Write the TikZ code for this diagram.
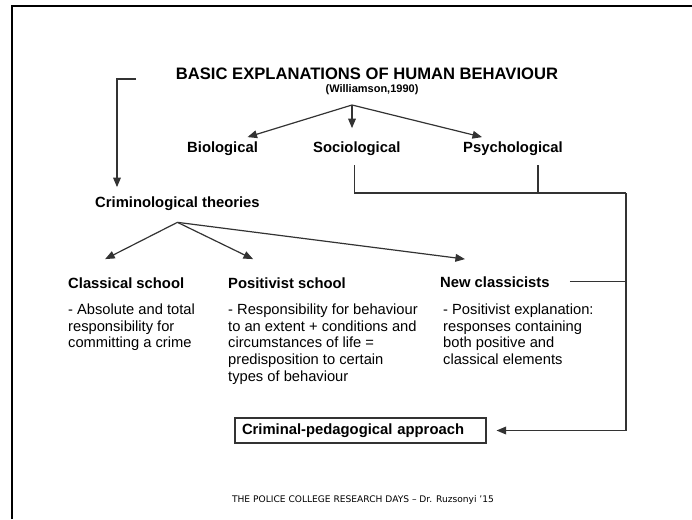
\documentclass[tikz,border=0pt]{standalone}
\usepackage{fontspec}
\setmainfont{Liberation Sans}
\newfontfamily\footfont{DejaVu Sans}
\usepackage{tikz}
\usetikzlibrary{arrows}

\tikzset{
    topic/.style={font=\fontsize{14.8}{16.7}\selectfont\bfseries,inner sep=0pt,anchor=base west},
    expl/.style={font=\fontsize{14.7}{16.7}\selectfont,align=left,inner sep=0pt,anchor=north west},
    link/.style={black!80,line width=1.2pt},
}

\begin{document}
\begin{tikzpicture}[x=1pt,y=-1pt,>=triangle 45]
\useasboundingbox (0,0) rectangle (692,519);
\draw[line width=2.8pt] (12,519) -- (12,6) -- (692,6);

\begin{scope}
    \node[font=\fontsize{16.6}{18}\selectfont\bfseries,anchor=base] (title) at (367,79) {BASIC EXPLANATIONS OF HUMAN BEHAVIOUR};
    \node[font=\fontsize{11}{12}\selectfont\bfseries,anchor=base] (source) at (372,92) {(Williamson,1990)};
    \coordinate (split) at (352,105);
    \node[topic] (bio) at (187,152) {Biological};
    \node[topic] (socio) at (313,152) {Sociological};
    \node[topic] (psycho) at (463,152) {Psychological};
    \draw[link,->] (split) -- ([shift={(25,-4)}]bio.north);
    \draw[link,->,shorten >=13pt] (split) -- (split |- socio.north);
    \draw[link,->] (split) -- ([shift={(-31,-4)}]psycho.north);
\end{scope}

\begin{scope}
    \node[topic] (crim) at (95,207) {Criminological theories};
    \coordinate (brk) at (136,79);
    \draw[link,->] (brk) -| ([shift={(22,-9)}]crim.north west);
    \coordinate (crimsplit) at ([shift={(0,12)}]crim.south);

    \node[topic] (classical) at (68,288) {Classical school};
    \node[topic] (positivist) at (228,288) {Positivist school};
    \node[topic] (newclass) at (440,287) {New classicists};
    \draw[link,->] (crimsplit) -- ([shift={(-21,-18)}]classical.north);
    \draw[link,->] (crimsplit) -- ([shift={(-34,-18)}]positivist.north);
    \draw[link,->] (crimsplit) -- ([shift={(-30,-17)}]newclass.north);

    \node[expl] (classicaltext) at (68,303.5) {- Absolute and total\\responsibility for\\committing a crime};
    \node[expl] (positivisttext) at (228,303.5) {- Responsibility for behaviour\\to an extent + conditions and\\circumstances of life =\\predisposition to certain\\types of behaviour};
    \node[expl] (newclasstext) at (443,303.5) {- Positivist explanation:\\responses containing\\both positive and\\classical elements};
\end{scope}

\begin{scope}
    \node[draw=black!80,line width=1.2pt,font=\fontsize{14.8}{16.7}\selectfont\bfseries,
          text width=237pt,align=left,inner xsep=7pt,inner ysep=5.5pt] (approach) at (360.5,430.5) {Criminal-pedagogical approach};
    \coordinate (join) at (626,193);
    \draw[link] ([shift={(-2,10)}]socio.south) |- (join);
    \draw[link] ([shift={(25,10)}]psycho.south) |- (join);
    \draw[link] ([shift={(20,0)}]newclass.east) -- (newclass.east -| join);
    \draw[link,->,shorten >=10pt] (join) |- (approach.east);
\end{scope}

\node[font=\footfont\fontsize{9.1}{10}\selectfont,anchor=base] (footer) at (363,502) {THE POLICE COLLEGE RESEARCH DAYS – Dr. Ruzsonyi ’15};
\end{tikzpicture}
\end{document}
